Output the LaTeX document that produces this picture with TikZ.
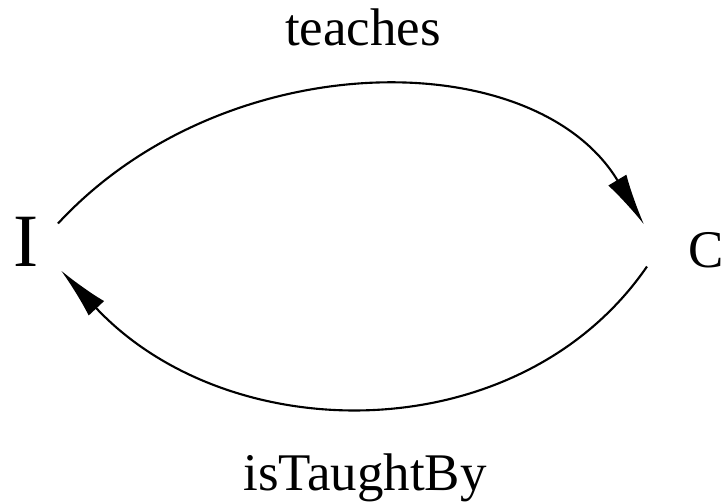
\documentclass[tikz,border=0pt]{standalone}
\usepackage{fontspec}
\setmainfont{Liberation Serif}
\usetikzlibrary{arrows.meta}
\tikzset{
  cls/.style={inner sep=0pt, font=\fontsize{45pt}{50pt}\selectfont},
  lbl/.style={inner sep=0pt, anchor=base, font=\fontsize{45pt}{50pt}\selectfont},
  rel/.style={-{Latex[length=44pt, width=18pt]}, line width=1.8pt},
}
\begin{document}
\begin{tikzpicture}[x=0.85pt, y=-0.85pt]
  \useasboundingbox (0,0) rectangle (724,502);
  % classes
  \node[cls, font=\fontsize{64pt}{70pt}\selectfont] (I) at (26,241.5) {I};
  \node[cls] (C) at (706,250.5) {C};
  % relations
  \draw[rel] ([shift={(32,-18)}]I.center) .. controls (225,43) and (535,43) .. ([shift={(-62,-26)}]C.center);
  \draw[rel] ([shift={(-59,16)}]C.center) .. controls (520,451) and (230,451) .. ([shift={(35,29)}]I.center);
  \node[lbl] (teaches) at (363,45) {teaches};
  \node[lbl] (taught) at (365,490) {isTaughtBy};
\end{tikzpicture}
\end{document}
